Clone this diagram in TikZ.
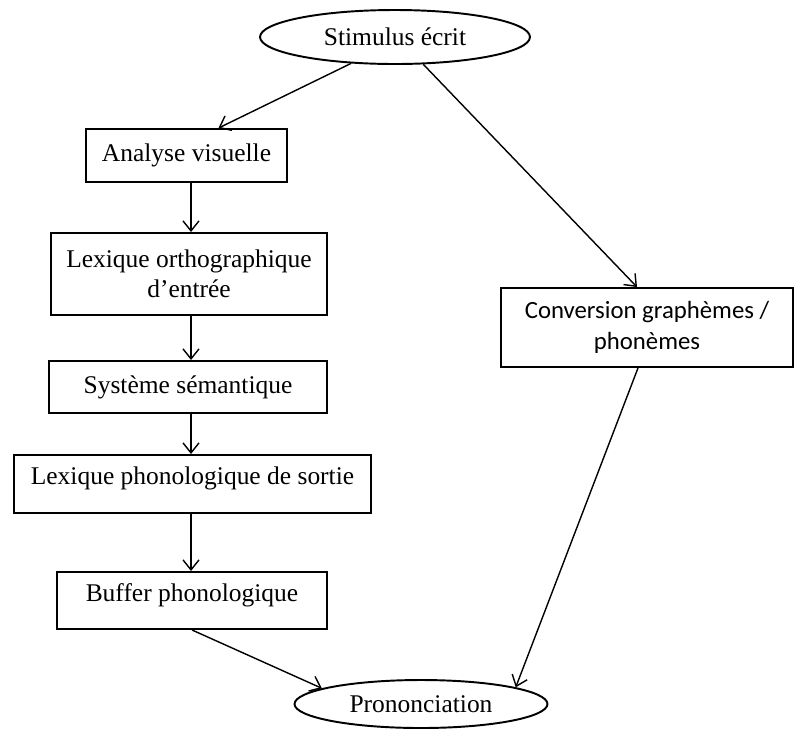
\documentclass[tikz,border=0pt]{standalone}
\usepackage{fontspec}
\setmainfont{Liberation Serif}
\newfontfamily\calfont{Carlito}
\usepackage{tikz}
\usetikzlibrary{arrows.meta,positioning,shapes.geometric}

\begin{document}
\begin{tikzpicture}[x=0.02cm, y=-0.02cm,
    box/.style={draw, line width=1.1pt, inner sep=0pt, align=center, font=\fontsize{14.5}{17}\selectfont},
    oval/.style={draw, ellipse, line width=1.1pt, inner sep=0pt, font=\fontsize{14.5}{17}\selectfont},
    arr/.style={-{Straight Barb[length=2mm,width=3.2mm]}, line width=0.8pt}]
    \useasboundingbox (0,0) rectangle (794,728);

    % Input and output
    \node[oval, minimum width=5.4cm, minimum height=1.08cm] (stim) at (395,37) {Stimulus écrit};
    \node[oval, minimum width=5.06cm, minimum height=0.96cm] (pron) at (421,704) {Prononciation};

    % Lexical route
    \node[box, minimum width=4.02cm, minimum height=1.06cm] (ana) at (186.5,155.5) {Analyse visuelle};
    \node[box, minimum width=5.52cm, minimum height=1.64cm] (lexo) at (189,274) {Lexique orthographique\\d’entrée};
    \node[box, minimum width=5.56cm, minimum height=1.04cm] (sys) at (188,387) {Système sémantique};
    \node[box, minimum width=7.14cm, minimum height=1.16cm, text depth=0.35cm] (lexp) at (192.5,484) {Lexique phonologique de sortie};
    \node[box, minimum width=5.4cm, minimum height=1.14cm, text depth=0.3cm] (buf) at (192,600.5) {Buffer phonologique};

    % Sublexical route
    \node[box, font=\calfont\fontsize{14.1}{17.5}\selectfont, minimum width=5.84cm, minimum height=1.58cm] (conv) at (647,327.5) {Conversion graphèmes /\\phonèmes};

    % Connectors
    \coordinate (spine) at (191,0);
    \draw[arr] (stim.211) -- ([xshift=0.64cm]ana.north);
    \draw[arr] (stim.316) -- ([xshift=-0.2cm]conv.north);
    \draw[arr] (ana.south -| spine) -- (lexo.north -| spine);
    \draw[arr] (lexo.south -| spine) -- (sys.north -| spine);
    \draw[arr] (sys.south -| spine) -- (lexp.north -| spine);
    \draw[arr] (lexp.south -| spine) -- (buf.north -| spine);
    \draw[arr] (buf.south) -- (pron.171);
    \draw[arr] ([xshift=-0.18cm]conv.south) -- (pron.10);
\end{tikzpicture}
\end{document}
